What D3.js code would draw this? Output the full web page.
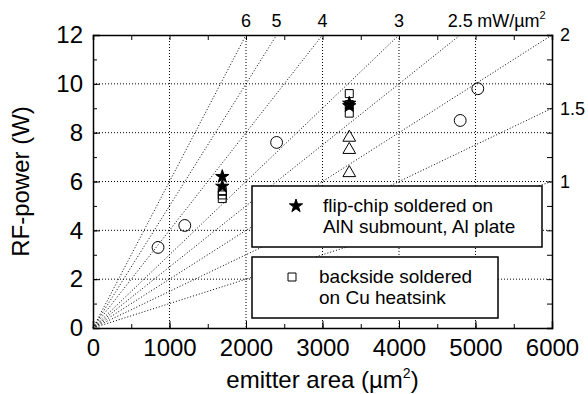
<!DOCTYPE html>
<html>
<head>
<meta charset="utf-8">
<script src="https://cdn.jsdelivr.net/npm/d3@7"></script>
<style>
  body { margin: 0; background: #fff; }
  svg { font-family: Arial, "Liberation Sans", sans-serif; }
  .axis path, .axis line { stroke: #000; }
  .grid { stroke: #000; stroke-width: 1; stroke-dasharray: 1,2; }
</style>
</head>
<body>
<svg width="588" height="394"></svg>
<script>
// power density lines (mW/um^2)
var densities = [6, 5, 4, 3, 2.5, 2, 1.5, 1];
var topLabels = ["6", "5", "4", "3", "2.5"];
var rightLabels = ["2", "1.5", "1"];

// open circles
var circleArea = [850, 1200, 2400, 4800, 5030];
var circlePower = [3.3, 4.2, 7.6, 8.5, 9.8];
// flip-chip (stars)
var starArea = [1690, 1690, 3350, 3350];
var starPower = [6.2, 5.8, 9.2, 9.1];
// backside soldered (squares)
var squareArea = [1690, 1690, 1690, 3350, 3350, 3350];
var squarePower = [5.6, 5.45, 5.3, 9.6, 9.15, 8.8];
// triangles
var triArea = [3350, 3350, 3350];
var triPower = [7.8, 7.3, 6.35];

var xTicks = [0, 1000, 2000, 3000, 4000, 5000, 6000];
var yTicks = [0, 2, 4, 6, 8, 10, 12];

var svg = d3.select("svg"),
    margin = {top: 35, right: 36, bottom: 66, left: 93},
    width = +svg.attr("width") - margin.left - margin.right,
    height = +svg.attr("height") - margin.top - margin.bottom,
    g = svg.append("g").attr("transform", "translate(" + margin.left + "," + margin.top + ")");

var x = d3.scaleLinear().domain([0, 6000]).range([0, width]);
var y = d3.scaleLinear().domain([0, 12]).range([height, 0]);

/* ==================== GRID ==================== */

g.append("g").selectAll("line")
    .data([1000, 2000, 3000, 4000, 5000])
    .enter().append("line")
    .attr("class", "grid")
    .attr("x1", function(d) { return x(d); })
    .attr("x2", function(d) { return x(d); })
    .attr("y1", 0).attr("y2", height);

g.append("g").selectAll("line")
    .data([2, 4, 6, 8, 10])
    .enter().append("line")
    .attr("class", "grid")
    .attr("x1", 0).attr("x2", width)
    .attr("y1", function(d) { return y(d); })
    .attr("y2", function(d) { return y(d); });

// density lines: P(W) = density * area / 1000, clipped to the frame
g.append("g").selectAll("line")
    .data(densities)
    .enter().append("line")
    .attr("class", "grid")
    .attr("x1", x(0)).attr("y1", y(0))
    .attr("x2", function(d) { return x(Math.min(6000, 12000 / d)); })
    .attr("y2", function(d) { return y(Math.min(12, d * 6)); });

/* ==================== AXES ==================== */

var xMinor = d3.range(0, 6001, 500);
var yMinor = d3.range(0, 13, 1);

g.append("g")
    .attr("class", "axis")
    .attr("transform", "translate(0," + height + ")")
    .call(d3.axisBottom(x).tickValues(xMinor).tickSize(-4).tickFormat(""))
    .call(function(a) { a.select(".domain").remove(); });

g.append("g")
    .attr("class", "axis")
    .attr("transform", "translate(0," + height + ")")
    .call(d3.axisBottom(x).tickValues(xTicks).tickSize(-7).tickPadding(11).tickFormat(d3.format("d")))
    .call(function(a) {
        a.select(".domain").attr("stroke-width", 1.5);
        a.selectAll("text").attr("font-size", 24).attr("fill", "#000").attr("font-family", "Arial, Liberation Sans");
    });

g.append("g")
    .attr("class", "axis")
    .call(d3.axisLeft(y).tickValues(yMinor).tickSize(-4).tickFormat(""))
    .call(function(a) { a.select(".domain").remove(); });

g.append("g")
    .attr("class", "axis")
    .call(d3.axisLeft(y).tickValues(yTicks).tickSize(-7).tickPadding(10))
    .call(function(a) {
        a.select(".domain").attr("stroke-width", 1.5);
        a.selectAll("text").attr("font-size", 24).attr("fill", "#000").attr("font-family", "Arial, Liberation Sans");
    });

g.append("g")
    .attr("class", "axis")
    .call(d3.axisTop(x).tickValues(xMinor).tickSize(-5).tickFormat(""))
    .call(function(a) { a.select(".domain").attr("stroke-width", 1.5); });

g.append("g")
    .attr("class", "axis")
    .attr("transform", "translate(" + width + ",0)")
    .call(d3.axisRight(y).tickValues(yMinor).tickSize(-5).tickFormat(""))
    .call(function(a) { a.select(".domain").attr("stroke-width", 1.5); });

/* ==================== DENSITY LABELS ==================== */

g.append("g").selectAll("text")
    .data(topLabels)
    .enter().append("text")
    .attr("x", function(d) { return x(12000 / +d); })
    .attr("y", -8)
    .attr("text-anchor", "middle")
    .attr("font-size", 18)
    .text(function(d) { return d; });

var unit = g.append("text")
    .attr("x", x(12000 / 2.5) + 17)
    .attr("y", -8)
    .attr("font-size", 18);
unit.append("tspan").text("mW/µm");
unit.append("tspan").attr("font-size", 11).attr("dy", -8).text("2");

g.append("g").selectAll("text")
    .data(rightLabels)
    .enter().append("text")
    .attr("x", width + 8)
    .attr("y", function(d) { return y(+d * 6); })
    .attr("dy", "0.35em")
    .attr("font-size", 18)
    .text(function(d) { return d; });

/* ==================== AXIS TITLES ==================== */

g.append("text")
    .attr("transform", "translate(-64," + (height / 2) + ") rotate(-90)")
    .attr("text-anchor", "middle")
    .attr("font-size", 24)
    .text("RF-power (W)");

var xt = g.append("text")
    .attr("x", width / 2)
    .attr("y", height + 60)
    .attr("text-anchor", "middle")
    .attr("font-size", 24);
xt.append("tspan").text("emitter area (µm");
xt.append("tspan").attr("font-size", 14).attr("dy", -10).text("2");
xt.append("tspan").attr("dy", 10).text(")");

/* ==================== POINTS ==================== */

var circles = circleArea.map(function(a, i) { return {a: a, p: circlePower[i]}; });
var stars = starArea.map(function(a, i) { return {a: a, p: starPower[i]}; });
var squares = squareArea.map(function(a, i) { return {a: a, p: squarePower[i]}; });
var tris = triArea.map(function(a, i) { return {a: a, p: triPower[i]}; });

function drawSymbols(data, type, size, fill) {
    g.append("g").selectAll("path")
        .data(data)
        .enter().append("path")
        .attr("transform", function(d) { return "translate(" + x(d.a) + "," + y(d.p) + ")"; })
        .attr("d", d3.symbol().type(type).size(size))
        .attr("fill", fill)
        .attr("stroke", "#000")
        .attr("stroke-width", 1);
}

drawSymbols(circles, d3.symbolCircle, 110, "none");
drawSymbols(tris, d3.symbolTriangle, 70, "none");
drawSymbols(squares, d3.symbolSquare, 64, "none");
drawSymbols(stars, d3.symbolStar, 55, "#000");

/* ==================== LEGEND ==================== */

var legendItems = [
    {sym: d3.symbolStar, size: 55, fill: "#000", lines: ["flip-chip soldered on", "AlN submount, Al plate"], w: 290},
    {sym: d3.symbolSquare, size: 64, fill: "none", lines: ["backside soldered", "on Cu heatsink"], w: 246}
];

var legend = svg.append("g").selectAll("g")
    .data(legendItems)
    .enter().append("g")
    .attr("transform", function(d, i) { return "translate(252," + (186 + i * 71) + ")"; });

legend.append("rect")
    .attr("width", function(d) { return d.w; })
    .attr("height", 61)
    .attr("fill", "#fff")
    .attr("stroke", "#000")
    .attr("stroke-width", 1.5);

legend.append("path")
    .attr("transform", function(d, i) { return "translate(" + (i ? 40 : 44) + ",20)"; })
    .attr("d", function(d) { return d3.symbol().type(d.sym).size(d.size)(); })
    .attr("fill", function(d) { return d.fill; })
    .attr("stroke", "#000");

legend.each(function(d, i) {
    d3.select(this).append("g").selectAll("text")
        .data(d.lines)
        .enter().append("text")
        .attr("x", i ? 67 : 71)
        .attr("y", function(t, j) { return 26 + j * 21; })
        .attr("font-size", 19)
        .text(function(t) { return t; });
});
</script>
</body>
</html>
